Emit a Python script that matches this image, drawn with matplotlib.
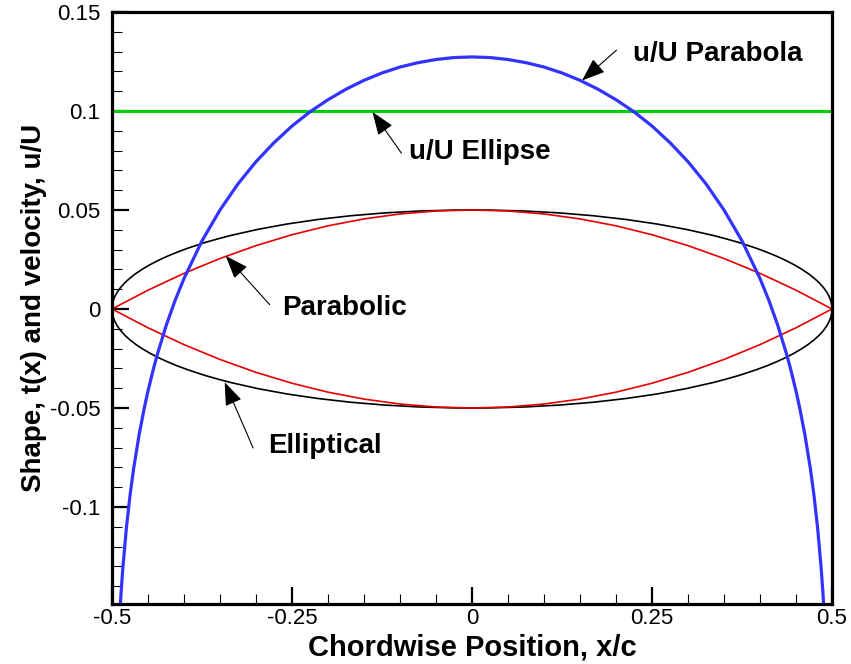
import matplotlib
matplotlib.use("Agg")
import matplotlib.pyplot as plt
from matplotlib.patches import Ellipse

plt.rcParams['font.family'] = ['Liberation Sans', 'DejaVu Sans']

# Surface velocity over the biconvex parabolic-arc section (thin-airfoil result)
x_vel = [-0.4925, -0.49, -0.4875, -0.485, -0.48, -0.475, -0.47, -0.4625, -0.455, -0.45,
         -0.4425, -0.4375, -0.425, -0.4125,
         -0.4, -0.375, -0.35, -0.325, -0.3, -0.275, -0.25, -0.225, -0.2,
         -0.175, -0.15, -0.125, -0.1, -0.075, -0.05, -0.025, 0.0,
         0.025, 0.05, 0.075, 0.1, 0.125, 0.15, 0.175, 0.2, 0.225, 0.25,
         0.275, 0.3, 0.325, 0.35, 0.375, 0.4,
         0.4125, 0.425, 0.4375, 0.4425, 0.45, 0.455, 0.4625, 0.47, 0.475, 0.48,
         0.485, 0.4875, 0.49, 0.4925]
u_parabola = [-0.1790, -0.1594, -0.1439, -0.1311, -0.1105, -0.0942, -0.0807, -0.0638, -0.0497, -0.0414,
              -0.0303, -0.0235, -0.0086, 0.0042,
              0.0154, 0.0344, 0.0500, 0.0632, 0.0744, 0.0840, 0.0924, 0.0996, 0.1057,
              0.1110, 0.1155, 0.1192, 0.1222, 0.1244, 0.1260, 0.1270, 0.1273,
              0.1270, 0.1260, 0.1244, 0.1222, 0.1192, 0.1155, 0.1110, 0.1057, 0.0996, 0.0924,
              0.0840, 0.0744, 0.0632, 0.0500, 0.0344, 0.0154,
              0.0042, -0.0086, -0.0235, -0.0303, -0.0414, -0.0497, -0.0638, -0.0807, -0.0942, -0.1105,
              -0.1311, -0.1439, -0.1594, -0.1790]

# Uniform surface velocity of the elliptical section
x_ell_vel = [-0.5, 0.5]
u_ellipse = [0.1, 0.1]

# Parabolic-arc section shape, upper and lower surfaces
x_shape = [-0.5, -0.45, -0.4, -0.35, -0.3, -0.25, -0.2, -0.15, -0.1, -0.05, 0.0,
           0.05, 0.1, 0.15, 0.2, 0.25, 0.3, 0.35, 0.4, 0.45, 0.5]
t_upper = [0.0, 0.0095, 0.018, 0.0255, 0.032, 0.0375, 0.042, 0.0455, 0.048, 0.0495, 0.05,
           0.0495, 0.048, 0.0455, 0.042, 0.0375, 0.032, 0.0255, 0.018, 0.0095, 0.0]
t_lower = [0.0, -0.0095, -0.018, -0.0255, -0.032, -0.0375, -0.042, -0.0455, -0.048, -0.0495, -0.05,
           -0.0495, -0.048, -0.0455, -0.042, -0.0375, -0.032, -0.0255, -0.018, -0.0095, 0.0]

# Elliptical section: chord and maximum thickness
ellipse_chord = 1.0
ellipse_thickness = 0.1

x_ticks = [-0.5, -0.25, 0.0, 0.25, 0.5]
x_ticklabels = ['-0.5', '-0.25', '0', '0.25', '0.5']
y_ticks = [-0.1, -0.05, 0.0, 0.05, 0.1, 0.15]
y_ticklabels = ['-0.1', '-0.05', '0', '0.05', '0.1', '0.15']

fig = plt.figure(figsize=(8.51, 6.64), dpi=100)
ax = fig.add_axes([112 / 851, 60 / 664, 720 / 851, 592 / 664])

ax.add_patch(Ellipse((0.0, 0.0), width=ellipse_chord, height=ellipse_thickness,
                     fill=False, edgecolor='black', linewidth=1.2, zorder=1.5))
ax.plot(x_shape, t_upper, color='#e60000', linewidth=1.2, zorder=1.6)
ax.plot(x_shape, t_lower, color='#e60000', linewidth=1.2, zorder=1.6)
ax.plot(x_ell_vel, u_ellipse, color='#00d000', linewidth=2.2, zorder=1.7)
ax.plot(x_vel, u_parabola, color='#3333ff', linewidth=2.3, zorder=1.8)

ax.set_xlim(-0.5, 0.5)
ax.set_ylim(-0.149, 0.15)

ax.set_xticks(x_ticks)
ax.set_xticklabels(x_ticklabels)
ax.set_yticks(y_ticks)
ax.set_yticklabels(y_ticklabels)
ax.set_xticks([v / 100 for v in range(-45, 50, 5) if v % 25 != 0], minor=True)
ax.set_yticks([v / 100 for v in range(-14, 15) if v % 5 != 0], minor=True)

ax.tick_params(which='both', direction='in', top=False, right=False, colors='black')
ax.tick_params(which='major', length=12, width=1.6, labelsize=16)
ax.tick_params(which='minor', length=7, width=0.8)
ax.tick_params(axis='y', which='major', pad=8.5)
ax.tick_params(axis='x', which='major', pad=3)

for sp in ax.spines.values():
    sp.set_linewidth(2.3)

ax.set_xlabel('Chordwise Position, x/c', fontsize=21, fontweight='bold')
ax.set_ylabel('Shape, t(x) and velocity, u/U', fontsize=20, fontweight='bold')
ax.xaxis.set_label_coords(0.5, -0.049)
ax.yaxis.set_label_coords(-0.09, 0.5)

arrow_kw = dict(arrowstyle='-|>,head_length=0.8,head_width=0.3', mutation_scale=18,
                color='black', linewidth=0.8, shrinkA=0, shrinkB=0)

labels = [
    ('u/U Parabola', (0.2236, 0.1252), (0.1528, 0.1154), (0.2006, 0.1307)),
    ('u/U Ellipse', (-0.0875, 0.0757), (-0.1383, 0.0995), (-0.098, 0.0787)),
    ('Parabolic', (-0.2633, -0.0028), (-0.342, 0.0268), (-0.281, 0.0022)),
    ('Elliptical', (-0.2833, -0.0727), (-0.3435, -0.0370), (-0.304, -0.0702)),
]
for text, tpos, tip, tail in labels:
    ax.text(tpos[0], tpos[1], text, fontsize=20, fontweight='bold',
            ha='left', va='baseline', zorder=3)
    ax.annotate('', xy=tip, xytext=tail, arrowprops=arrow_kw, zorder=3)

fig.savefig('out.png', dpi=100)
